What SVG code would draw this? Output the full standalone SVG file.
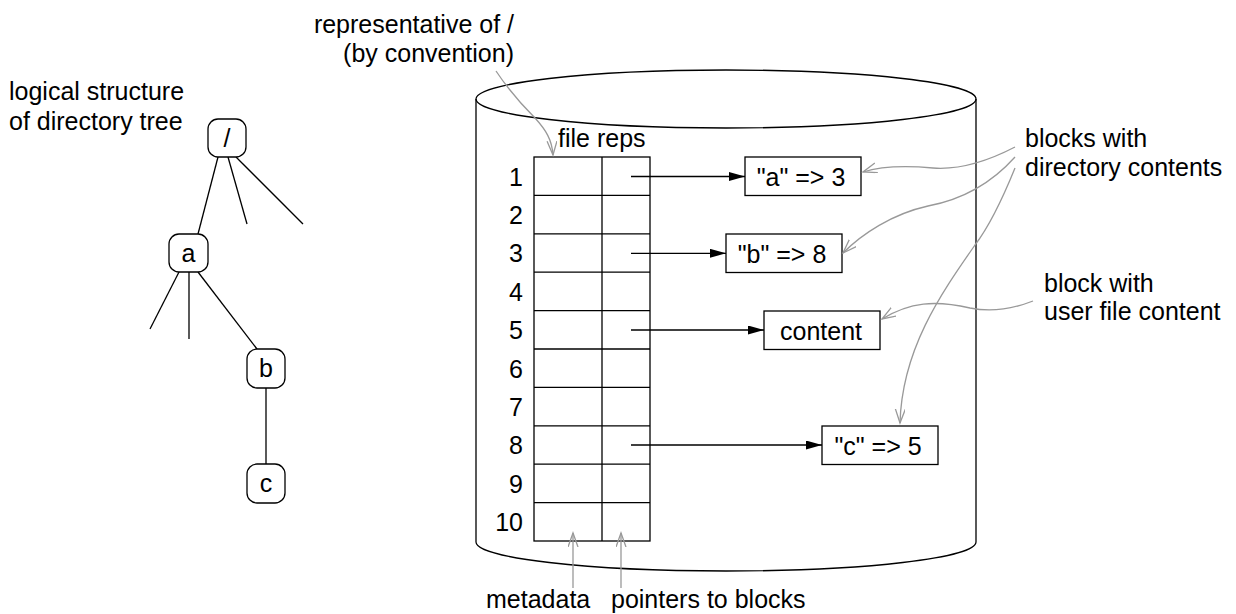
<svg xmlns="http://www.w3.org/2000/svg" width="1236" height="614" viewBox="0 0 1236 614">
<defs>
<style>
text{font-family:"Liberation Sans",Arial,sans-serif;font-size:25px;fill:#000}
.ln{stroke:#000;stroke-width:1.3;fill:none}
.box{stroke:#000;stroke-width:1.3;fill:#fff}
.node{stroke:#000;stroke-width:1.3;fill:#fff}
.ptr{stroke:#000;stroke-width:1.3;fill:none;marker-end:url(#ah)}
.lead{stroke:#999;stroke-width:1.3;fill:none;marker-end:url(#gh)}
.mid{text-anchor:middle}
.end{text-anchor:end}
</style>
<marker id="ah" markerUnits="userSpaceOnUse" markerWidth="18" markerHeight="10" refX="16" refY="4.5" orient="auto">
<path d="M0,0 L16,4.5 L0,9 Z" fill="#000"/>
</marker>
<marker id="gh" markerUnits="userSpaceOnUse" markerWidth="16" markerHeight="12" refX="14" refY="5" orient="auto">
<path d="M0,0 L14,5 L0,10" fill="none" stroke="#999" stroke-width="1.3"/>
</marker>
</defs>

<g id="tree-label">
<text x="9" y="100">logical structure</text>
<text x="9" y="130">of directory tree</text>
</g>

<g id="tree-edges">
<line class="ln" x1="218" y1="157" x2="198" y2="234"/>
<line class="ln" x1="228" y1="157" x2="247" y2="224"/>
<line class="ln" x1="236" y1="157" x2="303" y2="224"/>
<line class="ln" x1="179" y1="272" x2="150" y2="329"/>
<line class="ln" x1="189" y1="272" x2="189" y2="339"/>
<line class="ln" x1="198" y1="272" x2="257" y2="349"/>
<line class="ln" x1="266" y1="388" x2="266" y2="464"/>
</g>

<g id="node-root"><rect class="node" x="208" y="119" width="38" height="38" rx="10"/><text class="mid" x="227" y="147">/</text></g>
<g id="node-a"><rect class="node" x="169" y="234" width="39" height="38" rx="10"/><text class="mid" x="188.5" y="262">a</text></g>
<g id="node-b"><rect class="node" x="247" y="349" width="38" height="39" rx="10"/><text class="mid" x="266" y="377">b</text></g>
<g id="node-c"><rect class="node" x="247" y="464" width="38" height="39" rx="10"/><text class="mid" x="266" y="492">c</text></g>

<g id="disk">
<path class="ln" d="M476,99 L476,542 A250,29 0 0 0 976,542 L976,99"/>
<ellipse class="ln" cx="726" cy="99" rx="250" ry="29"/>
</g>

<g id="table">
<rect class="ln" x="534" y="157" width="116" height="384"/>
<line class="ln" x1="602" y1="157" x2="602" y2="541"/>
<line class="ln" x1="534" y1="195.4" x2="650" y2="195.4"/>
<line class="ln" x1="534" y1="233.8" x2="650" y2="233.8"/>
<line class="ln" x1="534" y1="272.2" x2="650" y2="272.2"/>
<line class="ln" x1="534" y1="310.6" x2="650" y2="310.6"/>
<line class="ln" x1="534" y1="349" x2="650" y2="349"/>
<line class="ln" x1="534" y1="387.4" x2="650" y2="387.4"/>
<line class="ln" x1="534" y1="425.8" x2="650" y2="425.8"/>
<line class="ln" x1="534" y1="464.2" x2="650" y2="464.2"/>
<line class="ln" x1="534" y1="502.6" x2="650" y2="502.6"/>
<text x="558" y="147">file reps</text>
<text class="end" x="523" y="185.5">1</text>
<text class="end" x="523" y="223.9">2</text>
<text class="end" x="523" y="262.3">3</text>
<text class="end" x="523" y="300.7">4</text>
<text class="end" x="523" y="339.1">5</text>
<text class="end" x="523" y="377.5">6</text>
<text class="end" x="523" y="415.9">7</text>
<text class="end" x="523" y="454.3">8</text>
<text class="end" x="523" y="492.7">9</text>
<text class="end" x="523" y="531.1">10</text>
</g>

<g id="block-a"><rect class="box" x="745" y="157" width="116" height="38.5"/><text class="mid" x="801" y="185.5">"a" =&gt; 3</text></g>
<g id="block-b"><rect class="box" x="726" y="234" width="116" height="38.5"/><text class="mid" x="782" y="262.5">"b" =&gt; 8</text></g>
<g id="block-content"><rect class="box" x="764" y="311" width="116" height="38.5"/><text class="mid" x="821" y="339.5">content</text></g>
<g id="block-c"><rect class="box" x="822" y="426" width="116" height="38.5"/><text class="mid" x="878" y="454.5">"c" =&gt; 5</text></g>

<g id="connectors">
<line class="ptr" x1="631" y1="176.5" x2="745" y2="176.5"/>
<line class="ptr" x1="631" y1="253.3" x2="726" y2="253.3"/>
<line class="ptr" x1="631" y1="330" x2="764" y2="330"/>
<line class="ptr" x1="631" y1="445" x2="822" y2="445"/>
<path class="lead" d="M496,71 C510,92 525,108 535,118 C546,130 552,140 553,155"/>
<path class="lead" d="M1015,147 C990,160 960,170 933,168 C910,166 882,166 863,172"/>
<path class="lead" d="M1015,157 C990,185 960,200 928,206 C892,214 862,234 843,253"/>
<path class="lead" d="M1015,168 C1000,205 988,228 975,245 C940,295 902,350 900,423"/>
<path class="lead" d="M1033,301 C1010,310 990,312 970,308 C935,300 910,302 882,319"/>
<line class="lead" x1="573" y1="588" x2="573" y2="533"/>
<line class="lead" x1="621" y1="588" x2="621" y2="533"/>
</g>

<g id="labels">
<text class="end" x="514" y="33">representative of /</text>
<text class="end" x="514" y="62">(by convention)</text>
<text x="1025" y="147">blocks with</text>
<text x="1025" y="176">directory contents</text>
<text x="1044" y="292">block with</text>
<text x="1044" y="320">user file content</text>
<text x="486" y="608">metadata</text>
<text x="611" y="608">pointers to blocks</text>
</g>
</svg>
